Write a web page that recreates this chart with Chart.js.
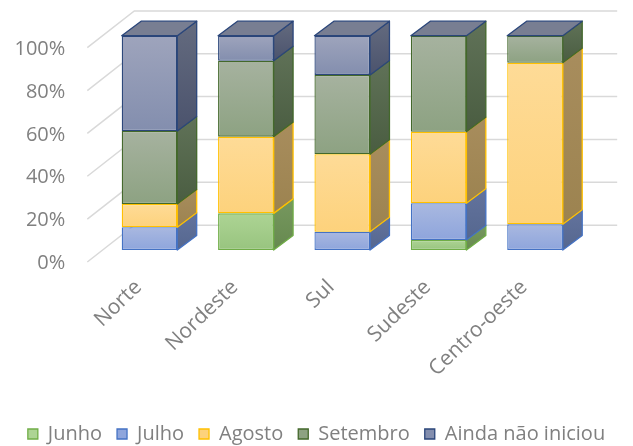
<!DOCTYPE html>
<html><head><meta charset="utf-8">
<script src="https://cdn.jsdelivr.net/npm/chart.js@4.4.1/dist/chart.umd.min.js"></script>
<style>html,body{margin:0;padding:0;background:#fff;overflow:hidden}#wrap{width:633px;height:446px;position:relative}</style>
</head><body><div id="wrap"><canvas id="c"></canvas></div>
<script>
// ---- data ----
const categories = ['Norte', 'Nordeste', 'Sul', 'Sudeste', 'Centro-oeste'];
const seriesNames = ['Junho', 'Julho', 'Agosto', 'Setembro', 'Ainda não iniciou'];
const junho    = [0,    17.1, 0,    4.7,  0];
const julho    = [10.6, 0,    8.5,  17.1, 12.0];
const agosto   = [10.9, 35.8, 36.2, 33.4, 75.4];
const setembro = [34.0, 35.4, 37.0, 44.8, 12.6];
const aindaNao = [44.5, 11.7, 18.3, 0,    0];
const yTickValues = [0, 20, 40, 60, 80, 100];
const yTickLabels = ['0%', '20%', '40%', '60%', '80%', '100%'];

// ---- styles ----
const palette = [
  {top:'#add494', bottom:'#98c47f', side:['#77985f','#66894f'], border:'#70ad47'},
  {top:'#a9b8e0', bottom:'#8ea5dc', side:['#63739d','#55678f'], border:'#4472c4'},
  {top:'#fedb97', bottom:'#fdd27c', side:['#a88d5d','#9c8350'], border:'#ffc000'},
  {top:'#a6b29f', bottom:'#8da282', side:['#607258','#4a5d41'], border:'#43682b'},
  {top:'#9ea4bc', bottom:'#838eae', side:['#646b7f','#4b536d'], border:'#2b467a'}
];
const TOP_FACE = '#787e92';
const FONT = 'Open Sans';
const TEXT = '#808080';
const GRID = '#d9d9d9';
const DX = 19.4, DY = -14.5;          // bar depth
const WALL_BACK = {dx: 33, dy: -24.8}; // back wall offset from bar front plane
const WALL_FRONT = {dx: -14, dy: 12};  // front wall edge offset
const seriesData = [junho, julho, agosto, setembro, aindaNao];

function frontFill(ctx) {
  const p = palette[ctx.datasetIndex];
  if (ctx.type !== 'data') return p.top;
  const chart = ctx.chart, y = chart.scales && chart.scales.y;
  if (!y || !chart.chartArea) return p.top;
  let cum = 0;
  for (let d = 0; d < ctx.datasetIndex; d++) cum += chart.data.datasets[d].data[ctx.dataIndex] || 0;
  const v = chart.data.datasets[ctx.datasetIndex].data[ctx.dataIndex] || 0;
  const t = y.getPixelForValue(cum + v), b = y.getPixelForValue(cum);
  if (!isFinite(t) || !isFinite(b) || Math.abs(b - t) < 1) return p.top;
  const g = chart.ctx.createLinearGradient(0, t, 0, b);
  g.addColorStop(0, p.top); g.addColorStop(1, p.bottom);
  return g;
}

const datasets = seriesData.map((arr, i) => ({
  label: seriesNames[i],
  data: arr,
  backgroundColor: frontFill,
  borderColor: palette[i].border,
  borderWidth: 1.3,
  borderSkipped: false,
  barPercentage: 0.577,
  categoryPercentage: 1.0
}));

const threeD = {
  id: 'threeD',
  beforeDatasetsDraw(chart) {
    const c = chart.ctx, y = chart.scales.y, a = chart.chartArea;
    c.save();
    c.strokeStyle = GRID; c.lineWidth = 1.5;
    yTickValues.forEach(v => {
      const py = y.getPixelForValue(v);
      const bx0 = a.left + WALL_BACK.dx, by = py + WALL_BACK.dy;
      c.beginPath();
      c.moveTo(a.left + WALL_FRONT.dx, py + WALL_FRONT.dy);
      c.lineTo(bx0, by);
      c.lineTo(a.right + WALL_BACK.dx + 1, by);
      c.stroke();
    });
    c.restore();
  },
  afterDatasetsDraw(chart) {
    const c = chart.ctx;
    c.save();
    c.lineJoin = 'round';
    const n = chart.data.datasets.length;
    for (let d = 0; d < n; d++) {
      const meta = chart.getDatasetMeta(d);
      const p = palette[d];
      meta.data.forEach(el => {
        const {x, y, base, width} = el.getProps(['x','y','base','width'], true);
        const right = x + width / 2, left = x - width / 2;
        const top = Math.min(y, base), bot = Math.max(y, base);
        if (bot - top > 0.5) {
          const g = c.createLinearGradient(0, top + DY, 0, bot);
          g.addColorStop(0, p.side[0]); g.addColorStop(1, p.side[1]);
          c.beginPath();
          c.moveTo(right, top); c.lineTo(right + DX, top + DY);
          c.lineTo(right + DX, bot + DY); c.lineTo(right, bot); c.closePath();
          c.fillStyle = g; c.fill();
          c.strokeStyle = p.border; c.lineWidth = 1.3; c.stroke();
        }
        if (d === n - 1) {
          c.beginPath();
          c.moveTo(left, top); c.lineTo(left + DX, top + DY);
          c.lineTo(right + DX, top + DY); c.lineTo(right, top); c.closePath();
          c.fillStyle = TOP_FACE; c.fill();
          c.strokeStyle = p.border; c.lineWidth = 1.3; c.stroke();
        }
      });
    }
    c.restore();
  }
};

const LAYOUT_BOTTOM = -8;
new Chart(document.getElementById('c'), {
  type: 'bar',
  data: { labels: categories, datasets },
  options: {
    responsive: true,
    maintainAspectRatio: false,
    animation: false,
    layout: { padding: { top: 35.7, right: 0, bottom: LAYOUT_BOTTOM, left: 0 } },
    plugins: {
      legend: {
        position: 'bottom',
        labels: {
          boxWidth: 10, boxHeight: 10, padding: 15,
          color: TEXT, font: { family: FONT, size: 20 }
        }
      },
      tooltip: { enabled: false }
    },
    scales: {
      x: {
        stacked: true,
        grid: { display: false, drawTicks: false },
        border: { display: false },
        ticks: {
          minRotation: 44, maxRotation: 44, autoSkip: false, padding: 25, labelOffset: -11,
          color: TEXT, font: { family: FONT, size: 21 }
        },
        afterFit(scale) {
          const lh = scale.chart.legend ? scale.chart.legend.height : 0;
          scale.height = 446 - LAYOUT_BOTTOM - lh - 250;
          scale.paddingLeft = 0; scale.paddingRight = 0;
        }
      },
      y: {
        stacked: true, min: 0, max: 100,
        afterBuildTicks(scale) { scale.ticks = yTickValues.map(v => ({ value: v })); },
        grid: { display: false, drawTicks: false },
        border: { display: false },
        ticks: {
          padding: 36, labelOffset: 13.5,
          color: TEXT, font: { family: FONT, size: 20 },
          callback: (v) => yTickLabels[yTickValues.indexOf(v)]
        },
        afterFit(scale) { scale.width = 101.3; scale.paddingTop = 0; scale.paddingBottom = 0; }
      },
      yR: {
        position: 'right', display: true,
        grid: { display: false, drawTicks: false },
        border: { display: false },
        ticks: { display: false },
        afterFit(scale) { scale.width = 49.8; scale.paddingTop = 0; scale.paddingBottom = 0; }
      }
    }
  },
  plugins: [threeD]
});
</script></body></html>
